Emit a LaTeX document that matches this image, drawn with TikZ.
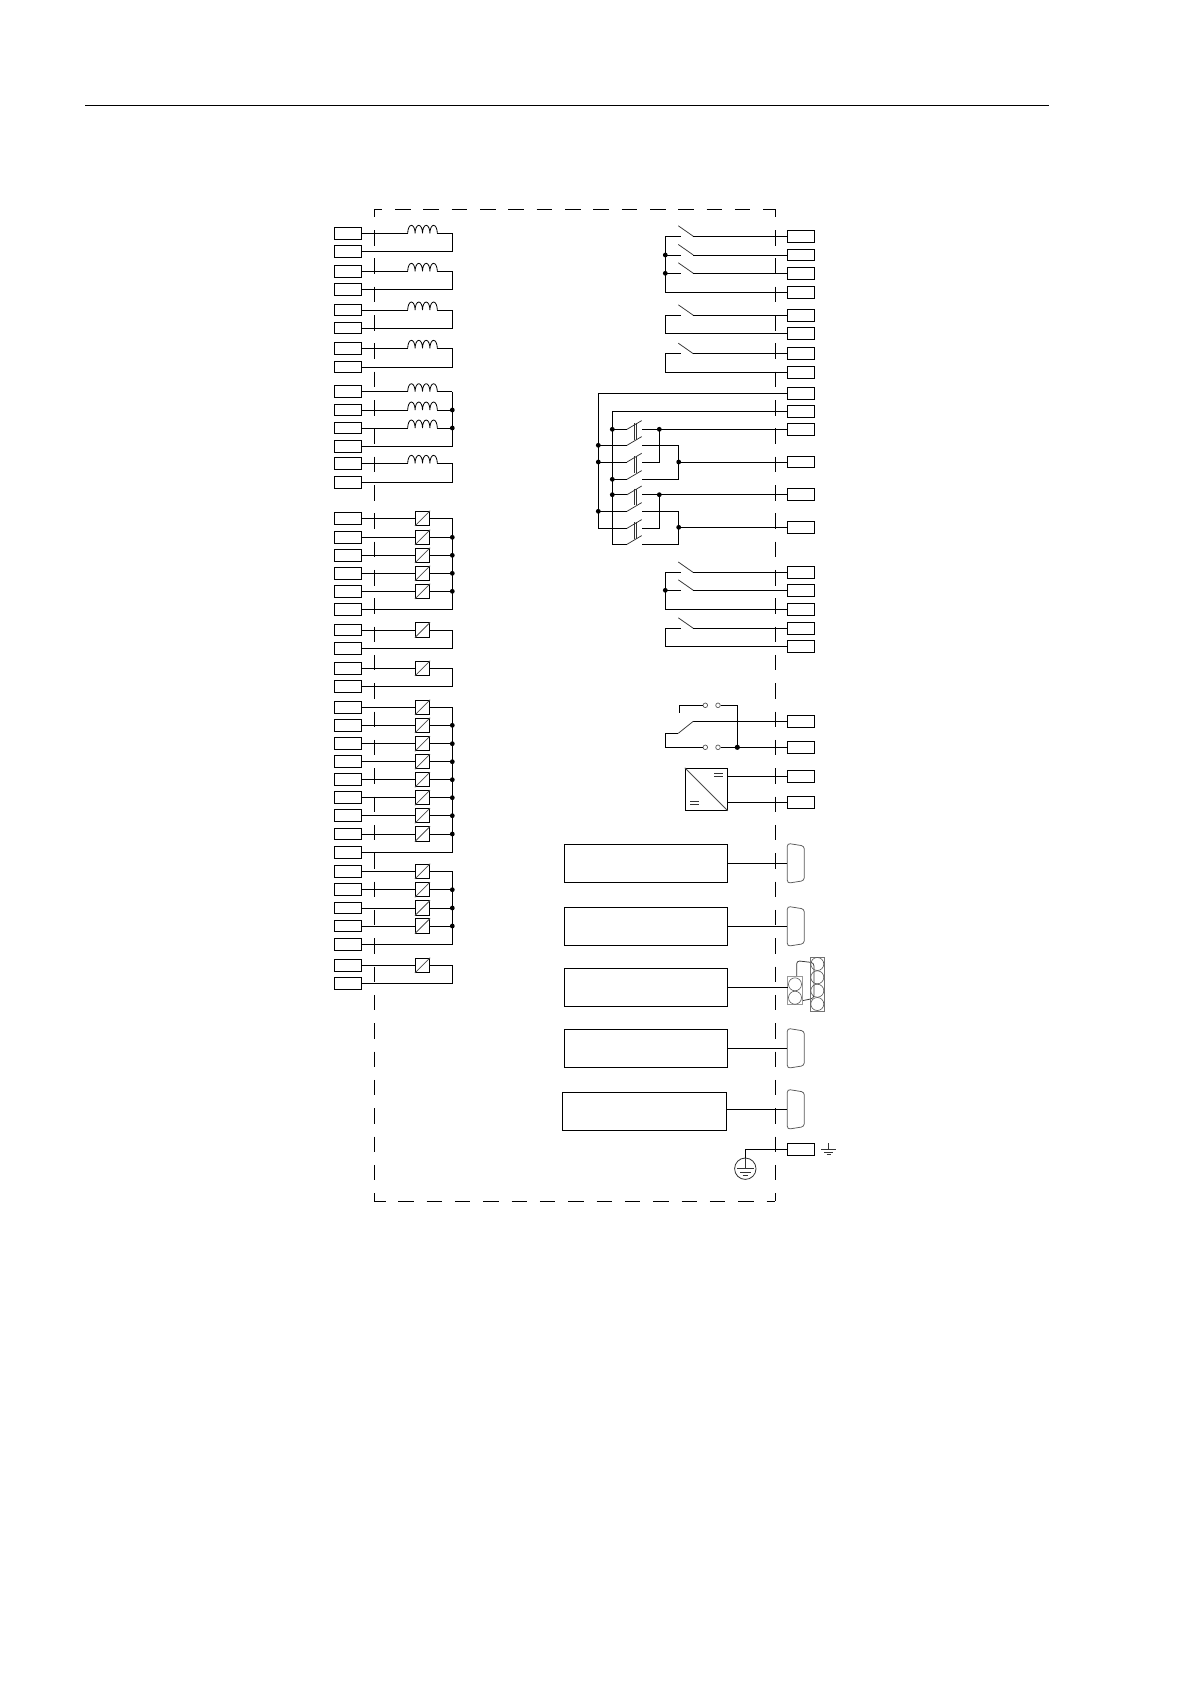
\documentclass[tikz,border=0pt]{standalone}
\usetikzlibrary{calc}
\tikzset{
  x=1pt,y=-1pt,
  wire/.style={line width=0.9pt,black},
  blade/.style={line width=0.75pt,black!80},
  term/.style={draw,line width=0.9pt,rectangle,minimum width=27.2pt,minimum height=11.6pt,inner sep=0pt},
  ctbox/.style={draw,line width=0.9pt,rectangle,minimum width=14.3pt,minimum height=14.3pt,inner sep=0pt},
  coil/.style={rectangle,minimum width=29.6pt,minimum height=0pt,inner sep=0pt,outer sep=0pt},
  diag/.style={line width=0.75pt,black!70},
  bigbox/.style={draw,line width=0.9pt,rectangle,minimum height=38pt,inner sep=0pt},
  dconn/.style={rectangle,minimum width=17pt,minimum height=40pt,inner sep=0pt,outer sep=0pt},
  dline/.style={line width=0.75pt,black!65,rounded corners=3pt},
  pin/.style={circle,draw=black!65,line width=0.6pt,minimum size=13pt,inner sep=0pt},
  pinbox/.style={draw=black!40,line width=0.7pt},
  contact/.style={circle,draw=black!65,line width=0.7pt,fill=white,minimum size=4.6pt,inner sep=0pt},
  frame/.style={line width=0.85pt,dash pattern=on 15.5pt off 12.83pt,dash phase=7.6pt},
  dot/.style={fill=black},
}
\begin{document}
\begin{tikzpicture}
\useasboundingbox (0,0) rectangle (1190,1682);
\fill[white] (0,0) rectangle (1190,1682);
% top rule
\coordinate (ruleA) at (85,105.3);
\coordinate (ruleB) at (1049,105.3);
\draw[wire] (ruleA) -- (ruleB);
% frame
\coordinate (fNW) at (374.3,209.3);
\coordinate (fNE) at (775.3,209.3);
\coordinate (fSW) at (374.3,1201.3);
\coordinate (fSE) at (775.3,1201.3);
\draw[frame] (fNW) -- (fSW);
\draw[frame] (fNE) -- (fSE);
\draw[frame] (fNW) -- (fNE);
\draw[frame,dash phase=4.3pt] (fSW) -- (fSE);

% LEFT TERMINALS
\foreach \n/\y in {1/233.3,2/251.7,3/271.3,4/289.3,5/310,6/328,7/348.3,8/367,9/391.7,10/410,11/428,12/446.3,13/463.3,14/482.3,
  15/518.3,16/537.3,17/555.3,18/573.3,19/591.3,20/609.7,21/630,22/648.3,23/668.3,24/686.3,25/707.3,26/725.3,27/743.7,28/761.7,29/779.7,30/797.7,31/815.7,32/834,33/852.3,34/871.3,35/889.7,36/908,37/926,38/944.3,39/965.3,40/983.3}{
  \node[term] (L\n) at (348,\y) {};
  \coordinate (Q\n) at (452.3,\y);
  \coordinate (M\n) at (422.5,\y);
}
% coils
\foreach \n in {1,3,5,7,9,10,11,13}{
  \node[coil] (C\n) at (M\n) {};
  \draw[wire] (L\n.east) -- (C\n.west);
  \draw[wire] (C\n.east) -- (Q\n);
  \draw[wire,line width=0.8pt] (C\n.west)
    arc[start angle=180,end angle=0,x radius=3.7pt,y radius=8pt]
    arc[start angle=180,end angle=0,x radius=3.7pt,y radius=8pt]
    arc[start angle=180,end angle=0,x radius=3.7pt,y radius=8pt]
    arc[start angle=180,end angle=0,x radius=3.7pt,y radius=8pt];
}
% current transformers
\foreach \n in {15,16,17,18,19,21,23,25,26,27,28,29,30,31,32,34,35,36,37,39}{
  \node[ctbox] (C\n) at (M\n) {};
  \draw[wire] (L\n.east) -- (C\n.west);
  \draw[wire] (C\n.east) -- (Q\n);
  \draw[diag] (C\n.south west) -- (C\n.north east);
}
% return paths
\foreach \a/\b in {1/2,3/4,5/6,7/8,9/12,13/14,15/20,21/22,23/24,25/33,34/38,39/40}{
  \draw[wire] (Q\a) -- (Q\b) -- (L\b.east);
}
\foreach \n in {10,11,16,17,18,19,26,27,28,29,30,31,32,35,36,37}{
  \fill[dot] (Q\n) circle (2.4pt);
}

% RIGHT TERMINALS
\foreach \n/\y in {1/236.3,2/255,3/273.3,4/292.3,5/315.3,6/333.3,7/353.7,8/372.3,9/393.3,10/411.7,11/429.3,12/462,13/494.7,14/527.3,15/572.5,16/590.3,17/609.3,18/628.3,19/646.3,20/721.3,21/747.3,22/776.3,23/802.3,24/1149.3}{
  \node[term] (T\n) at (800.8,\y) {};
  \coordinate (Rl\n) at (665.3,\y);
}
% simple contacts
\foreach \n in {1,2,3,5,7,15,16,18}{
  \coordinate (Sa\n) at ($(Rl\n)+(15.4,0)$);
  \coordinate (Sb\n) at ($(Rl\n)+(28,0)$);
  \draw[wire] (Rl\n) -- (Sa\n);
  \draw[blade] (Sb\n) -- ++(-15,-10.5);
  \draw[wire] (Sb\n) -- (T\n.west);
}
\draw[wire] (Rl1) -- (Rl4) -- (T4.west);
\draw[wire] (Rl5) -- (Rl6) -- (T6.west);
\draw[wire] (Rl7) -- (Rl8) -- (T8.west);
\draw[wire] (Rl15) -- (Rl17) -- (T17.west);
\draw[wire] (Rl18) -- (Rl19) -- (T19.west);
\foreach \n in {2,3,16}{ \fill[dot] (Rl\n) circle (2.4pt); }

% bridge of four double poles
\coordinate (Atop) at (598.3,393.3);
\coordinate (Btop) at (612.3,411.7);
\foreach \n/\y in {1/429.3,2/445.3,3/462,4/479.3,5/494.7,6/511.3,7/528.3,8/544.3}{
  \coordinate (Ar\n) at (598.3,\y);
  \coordinate (Br\n) at (612.3,\y);
  \coordinate (Pa\n) at (627,\y);
  \coordinate (Pc\n) at (642,\y);
  \coordinate (Pj\n) at (659.3,\y);
  \coordinate (Pk\n) at (678.7,\y);
  \draw[blade] (Pa\n) -- ++(14.7,-8.7);
}
\draw[wire] (T9.west) -- (Atop) -- (Ar7) -- (Pa7);
\draw[wire] (T10.west) -- (Btop) -- (Br8) -- (Pa8);
\foreach \n in {2,3,6}{
  \draw[wire] (Ar\n) -- (Pa\n);
  \fill[dot] (Ar\n) circle (2.4pt);
}
\foreach \n in {1,4,5}{
  \draw[wire] (Br\n) -- (Pa\n);
  \fill[dot] (Br\n) circle (2.4pt);
}
% ganged links
\foreach \n in {1,3,5,7}{
  \draw[blade] ($(Pa\n)+(7.3,-6)$) -- ++(0,16.7);
  \draw[blade] ($(Pa\n)+(9.2,-6)$) -- ++(0,16.7);
}
% outgoing of poles
\draw[wire] (Pc1) -- (T11.west);
\draw[wire] (Pc3) -- (Pj3) -- (Pj1);
\fill[dot] (Pj1) circle (2.4pt);
\draw[wire] (Pc2) -- (Pk2) -- (Pk4) -- (Pc4);
\draw[wire] (Pk3) -- (T12.west);
\fill[dot] (Pk3) circle (2.4pt);
\draw[wire] (Pc5) -- (T13.west);
\draw[wire] (Pc7) -- (Pj7) -- (Pj5);
\fill[dot] (Pj5) circle (2.4pt);
\draw[wire] (Pc6) -- (Pk6) -- (Pk8) -- (Pc8);
\coordinate (Pk14) at (678.7,527.3);
\draw[wire] (Pk14) -- (T14.west);
\fill[dot] (Pk14) circle (2.4pt);

% changeover relay contact
\node[contact] (ca) at (705.3,705.3) {};
\node[contact] (cb) at (718,705.3) {};
\node[contact] (cc) at (705.3,747.3) {};
\node[contact] (cd) at (718,747.3) {};
\coordinate (rtop) at (679.3,712.7);
\coordinate (rtc) at (679.3,705.3);
\coordinate (rj) at (737.3,747.3);
\coordinate (rjt) at (737.3,705.3);
\coordinate (rpiv) at (693.3,721.3);
\coordinate (rbl) at (678.3,733.3);
\coordinate (rl) at (665.3,733.3);
\draw[wire] (rtop) -- (rtc) -- (ca.west);
\draw[wire] (cb.east) -- (rjt) -- (rj);
\draw[wire] (T20.west) -- (rpiv);
\draw[blade] (rpiv) -- (rbl);
\draw[wire] (rbl) -- (rl) -- (Rl21) -- (cc.west);
\draw[wire] (cd.east) -- (T21.west);
\fill[dot] (rj) circle (2.6pt);

% DC/DC converter
\node[draw,line width=0.9pt,rectangle,minimum width=42pt,minimum height=42pt,inner sep=0pt] (conv) at (706.3,789.3) {};
\draw[diag] (conv.north west) -- (conv.south east);
\coordinate (eqA) at (714,773.4);
\coordinate (eqB) at (714,775.9);
\coordinate (eqC) at (690,801.6);
\coordinate (eqD) at (690,804.3);
\draw[blade] (eqA) -- ++(8.7,0);
\draw[blade] (eqB) -- ++(8.7,0);
\draw[blade] (eqC) -- ++(8.7,0);
\draw[blade] (eqD) -- ++(8.7,0);
\draw[wire] (conv.east |- T22.west) -- (T22.west);
\draw[wire] (conv.east |- T23.west) -- (T23.west);

% interface boxes
\node[bigbox,minimum width=163pt] (B1) at (645.8,863.3) {};
\node[bigbox,minimum width=163pt] (B2) at (645.8,926.3) {};
\node[bigbox,minimum width=163pt] (B3) at (645.8,987.3) {};
\node[bigbox,minimum width=163pt] (B4) at (645.8,1048.3) {};
\node[bigbox,minimum width=164pt] (B5) at (644.3,1111.3) {};
% D-sub connectors
\foreach \n/\y in {1/863.3,2/926.3,4/1048.3,5/1109.3}{
  \node[dconn] (D\n) at (795.8,\y) {};
  \draw[dline] (D\n.north west) -- ($(D\n.north east)+(0,2.7)$) -- ($(D\n.south east)+(0,-2.7)$) -- (D\n.south west) -- cycle;
  \draw[wire] (B\n.east |- D\n.west) -- (D\n.west);
}
% two-part connector
\node[dconn] (D3) at (805,980.7) {};
\coordinate (d3a) at (796.7,976.7);
\coordinate (d3b) at (796.7,960.7);
\coordinate (d3c) at (813.9,962.7);
\coordinate (d3d) at (813.9,998.3);
\coordinate (d3e) at (802.3,1000.7);
\draw[dline,black!80] (d3a) -- (d3b) -- (d3c) -- (d3d) -- (d3e);
\draw[pinbox] (787.7,976.7) rectangle (802.3,1004.3);
\draw[pinbox,black!55] (810.3,957.3) rectangle (824.7,1011.3);
\node[pin] (p1) at (795,984.3) {};
\node[pin] (p2) at (795,997.7) {};
\node[pin] (p3) at (817.3,964) {};
\node[pin] (p4) at (817.3,977.3) {};
\node[pin] (p5) at (817.3,990.7) {};
\node[pin] (p6) at (817.3,1004) {};
\draw[wire] (B3.east) -- (p1.west |- B3.east);

% earth
\node[circle,draw=black!80,line width=0.8pt,minimum size=21.4pt,inner sep=0pt] (earth) at (745.3,1168.7) {};
\coordinate (ej) at (745.3,1149.3);
\draw[wire] (T24.west) -- (ej) -- (earth.north);
\draw[blade] (earth.north) -- (earth.center);
\draw[blade] (736.7,1168.3) -- (753.9,1168.3);
\draw[blade] (740,1172) -- (750.6,1172);
\draw[blade] (742.7,1175.7) -- (747.9,1175.7);
\coordinate (gt) at (828.3,1143.3);
\coordinate (gb) at (828.3,1149.3);
\draw[blade] (gt) -- (gb);
\draw[blade] (821,1149.3) -- (836,1149.3);
\draw[blade] (824,1151.9) -- (833.2,1151.9);
\draw[blade] (826.5,1154.4) -- (830.7,1154.4);
\end{tikzpicture}
\end{document}
